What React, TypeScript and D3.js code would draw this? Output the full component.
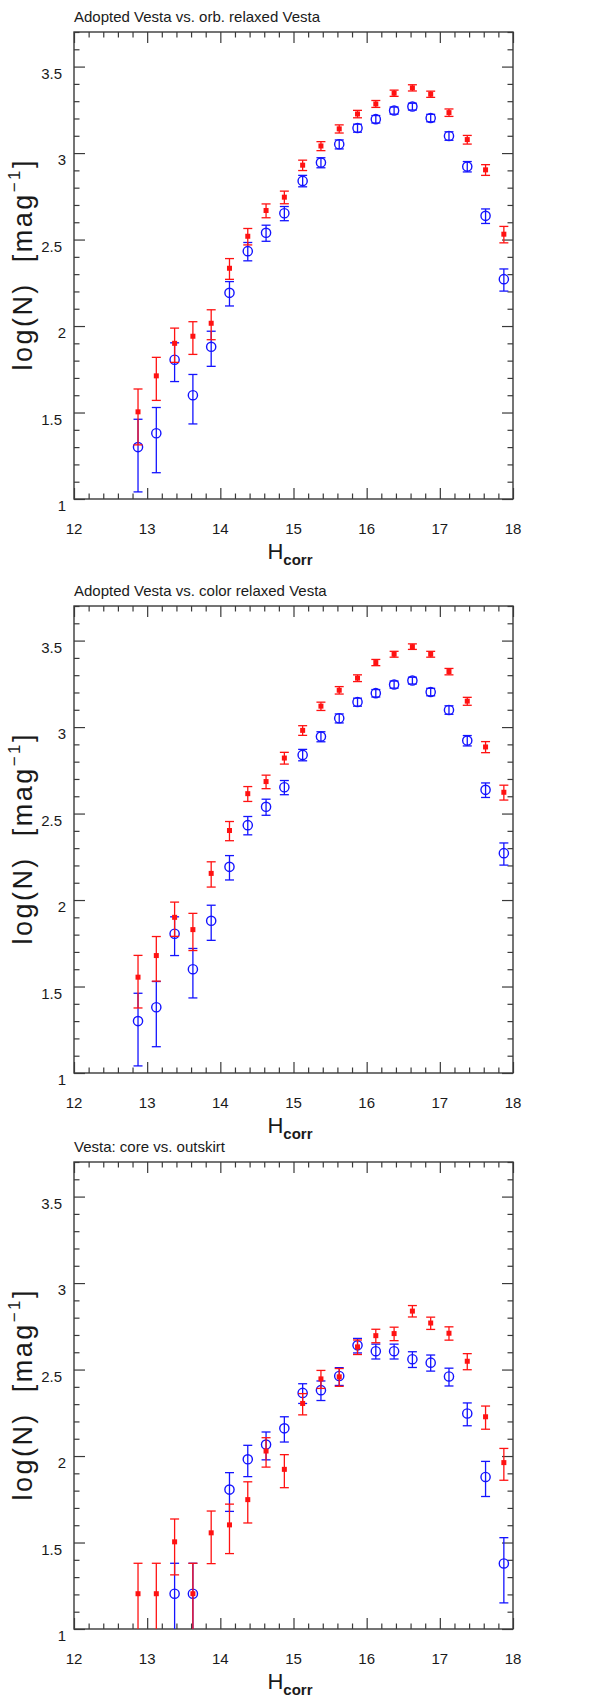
import React, { useEffect, useRef } from "react";
import * as d3 from "d3";

// bin centres in H_corr (0.25 mag bins)
const hBins = [
  12.875, 13.125, 13.375, 13.625, 13.875, 14.125, 14.375, 14.625, 14.875, 15.125, 15.375,
  15.625, 15.875, 16.125, 16.375, 16.625, 16.875, 17.125, 17.375, 17.625, 17.875,
];

// log(N) values, with upper / lower error offsets
const adopted = [1.3, 1.38, 1.805, 1.6, 1.88, 2.192, 2.433, 2.539, 2.652, 2.839, 2.945, 3.051, 3.145, 3.196, 3.246, 3.269, 3.203, 3.099, 2.922, 2.637, 2.271];
const adoptedUp = [0.161, 0.149, 0.098, 0.12, 0.09, 0.065, 0.05, 0.044, 0.039, 0.032, 0.028, 0.025, 0.022, 0.021, 0.02, 0.019, 0.021, 0.024, 0.029, 0.04, 0.059];
const adoptedDn = [0.259, 0.228, 0.126, 0.166, 0.113, 0.076, 0.056, 0.049, 0.043, 0.034, 0.03, 0.027, 0.024, 0.022, 0.021, 0.02, 0.022, 0.025, 0.031, 0.044, 0.069];

const orbRelaxed = [1.504, 1.712, 1.9, 1.941, 2.016, 2.334, 2.519, 2.668, 2.745, 2.93, 3.041, 3.14, 3.226, 3.284, 3.346, 3.377, 3.34, 3.234, 3.078, 2.903, 2.531];
const orbRelaxedUp = [0.132, 0.107, 0.088, 0.084, 0.078, 0.056, 0.045, 0.038, 0.035, 0.029, 0.025, 0.023, 0.021, 0.02, 0.018, 0.018, 0.018, 0.021, 0.024, 0.03, 0.045];
const orbRelaxedDn = [0.191, 0.142, 0.11, 0.105, 0.095, 0.064, 0.05, 0.042, 0.038, 0.031, 0.027, 0.024, 0.022, 0.02, 0.018, 0.018, 0.018, 0.022, 0.026, 0.032, 0.05];

const colorRelaxed = [1.554, 1.679, 1.9, 1.829, 2.154, 2.402, 2.615, 2.685, 2.821, 2.981, 3.121, 3.213, 3.283, 3.373, 3.421, 3.465, 3.421, 3.321, 3.15, 2.885, 2.623];
const colorRelaxedUp = [0.126, 0.11, 0.088, 0.094, 0.067, 0.052, 0.041, 0.037, 0.033, 0.027, 0.023, 0.021, 0.019, 0.018, 0.017, 0.016, 0.017, 0.018, 0.022, 0.031, 0.041];
const colorRelaxedDn = [0.178, 0.148, 0.11, 0.121, 0.079, 0.059, 0.045, 0.041, 0.035, 0.029, 0.025, 0.022, 0.02, 0.018, 0.017, 0.016, 0.017, 0.019, 0.024, 0.033, 0.045];

const core = [null, null, 1.204, 1.204, null, 1.806, 1.981, 2.066, 2.16, 2.365, 2.381, 2.463, 2.64, 2.606, 2.606, 2.56, 2.54, 2.46, 2.246, 1.879, 1.379];
const coreUp = [0, 0, 0.176, 0.176, 0, 0.098, 0.081, 0.073, 0.067, 0.053, 0.053, 0.048, 0.04, 0.041, 0.041, 0.043, 0.044, 0.048, 0.061, 0.09, 0.149];
const coreDn = [0, 0, 0.301, 0.301, 0, 0.126, 0.1, 0.088, 0.079, 0.061, 0.06, 0.055, 0.044, 0.045, 0.045, 0.048, 0.049, 0.055, 0.071, 0.113, 0.228];

const outskirt = [1.204, 1.204, 1.504, 1.204, 1.556, 1.602, 1.748, 2.029, 1.923, 2.304, 2.446, 2.458, 2.631, 2.696, 2.708, 2.838, 2.769, 2.71, 2.548, 2.227, 1.962];
const outskirtUp = [0.176, 0.176, 0.132, 0.176, 0.126, 0.12, 0.103, 0.077, 0.085, 0.057, 0.049, 0.048, 0.04, 0.037, 0.037, 0.032, 0.034, 0.037, 0.044, 0.062, 0.082];
const outskirtDn = [0.301, 0.301, 0.191, 0.301, 0.178, 0.166, 0.135, 0.093, 0.106, 0.066, 0.055, 0.055, 0.044, 0.041, 0.041, 0.034, 0.037, 0.04, 0.049, 0.072, 0.102];

const xTicks = [12, 13, 14, 15, 16, 17, 18];
const xTickLabels = ["12", "13", "14", "15", "16", "17", "18"];
const yTicks = [1, 1.5, 2, 2.5, 3, 3.5];
const yTickLabels = ["1", "1.5", "2", "2.5", "3", "3.5"];

const BLUE = "#1414ff";
const RED = "#ff1212";
const AXIS = "#3a3a3a";
const FONT = "'Liberation Sans', Arial, Helvetica, sans-serif";

const Panel = ({ idx, title, top, blue, red }) => {
  const gRef = useRef(null);

  useEffect(() => {
    const g = d3.select(gRef.current);
    g.selectAll("*").remove();

    const left = 74;
    const right = 513;
    const height = 467;
    const bottom = top + height;

    const x = d3.scaleLinear().domain([12, 18]).range([left, right]);
    const y = d3.scaleLinear().domain([1, 3.7]).range([bottom, top]);

    const xMinor = d3.range(0, 31).map((i) => 12 + i * 0.2).filter((_, i) => i % 5 !== 0);
    const yMinor = d3.range(0, 28).map((i) => 1 + i * 0.1).filter((_, i) => i % 5 !== 0);

    // inward-pointing ticks on all four sides
    const tickAxis = (axis, tr) => {
      const a = g.append("g").attr("transform", tr).call(axis);
      a.select(".domain").remove();
      a.selectAll("line").attr("stroke", AXIS).attr("stroke-width", 1.2);
      a.selectAll("text").remove();
    };
    const fmt = () => "";
    tickAxis(d3.axisBottom(x).tickValues(xTicks).tickSize(-11).tickSizeOuter(0).tickFormat(fmt), `translate(0,${bottom})`);
    tickAxis(d3.axisBottom(x).tickValues(xMinor).tickSize(-5.5).tickSizeOuter(0).tickFormat(fmt), `translate(0,${bottom})`);
    tickAxis(d3.axisTop(x).tickValues(xTicks).tickSize(-11).tickSizeOuter(0).tickFormat(fmt), `translate(0,${top})`);
    tickAxis(d3.axisTop(x).tickValues(xMinor).tickSize(-5.5).tickSizeOuter(0).tickFormat(fmt), `translate(0,${top})`);
    tickAxis(d3.axisLeft(y).tickValues(yTicks).tickSize(-11).tickSizeOuter(0).tickFormat(fmt), `translate(${left},0)`);
    tickAxis(d3.axisLeft(y).tickValues(yMinor).tickSize(-5.5).tickSizeOuter(0).tickFormat(fmt), `translate(${left},0)`);
    tickAxis(d3.axisRight(y).tickValues(yTicks).tickSize(-11).tickSizeOuter(0).tickFormat(fmt), `translate(${right},0)`);
    tickAxis(d3.axisRight(y).tickValues(yMinor).tickSize(-5.5).tickSizeOuter(0).tickFormat(fmt), `translate(${right},0)`);

    g.append("rect")
      .attr("x", left)
      .attr("y", top)
      .attr("width", right - left)
      .attr("height", height)
      .attr("fill", "none")
      .attr("stroke", AXIS)
      .attr("stroke-width", 1.4);

    // tick labels
    g.append("g")
      .selectAll("text")
      .data(xTicks)
      .enter()
      .append("text")
      .attr("x", (d) => x(d))
      .attr("y", bottom + 35.3)
      .attr("text-anchor", "middle")
      .attr("font-size", 15)
      .attr("fill", "#1a1a1a")
      .text((d, i) => xTickLabels[i]);

    g.append("g")
      .selectAll("text")
      .data(yTicks)
      .enter()
      .append("text")
      .attr("x", (d, i) => (yTickLabels[i].includes(".") ? 62 : 66))
      .attr("y", (d) => y(d) + 12.3)
      .attr("text-anchor", "end")
      .attr("font-size", 15)
      .attr("fill", "#1a1a1a")
      .text((d, i) => yTickLabels[i]);

    // title
    g.append("text")
      .attr("x", left)
      .attr("y", top - 10)
      .attr("font-size", 15)
      .attr("fill", "#1a1a1a")
      .text(title);

    // x label
    const xl = g
      .append("text")
      .attr("x", 290)
      .attr("y", bottom + 59.5)
      .attr("text-anchor", "middle")
      .attr("fill", "#1a1a1a");
    xl.append("tspan").attr("font-size", 22).text("H");
    xl.append("tspan").attr("font-size", 15).attr("font-weight", "bold").attr("dy", 6).text("corr");

    // y label
    const yl = g
      .append("text")
      .attr("transform", `translate(31.5,${top + 233.5}) rotate(-90)`)
      .attr("text-anchor", "middle")
      .attr("font-size", 27)
      .attr("fill", "#1a1a1a")
      .style("white-space", "pre")
      .attr("textLength", 210)
      .attr("lengthAdjust", "spacing");
    yl.append("tspan").text("log(N)  [mag");
    yl.append("tspan").attr("font-size", 17).attr("dy", -12).text("\u22121");
    yl.append("tspan").attr("dy", 12).text("]");

    // data
    g.append("clipPath")
      .attr("id", `clip-${idx}`)
      .append("rect")
      .attr("x", left)
      .attr("y", top)
      .attr("width", right - left)
      .attr("height", height);

    const plot = g.append("g").attr("clip-path", `url(#clip-${idx})`);

    const drawSeries = (s, color, marker) => {
      const pts = hBins
        .map((h, i) => ({ h, v: s.vals[i], up: s.up[i], dn: s.dn[i] }))
        .filter((d) => d.v !== null);
      const eg = plot.append("g").attr("stroke", color).attr("stroke-width", 1.3).attr("fill", "none");
      pts.forEach((d) => {
        const cx = x(d.h);
        const yHi = y(d.v + d.up);
        const yLo = y(d.v - d.dn);
        eg.append("line").attr("x1", cx).attr("x2", cx).attr("y1", yHi).attr("y2", yLo);
        eg.append("line").attr("x1", cx - 4.5).attr("x2", cx + 4.5).attr("y1", yHi).attr("y2", yHi);
        eg.append("line").attr("x1", cx - 4.5).attr("x2", cx + 4.5).attr("y1", yLo).attr("y2", yLo);
      });
      if (marker === "circle") {
        plot.append("g")
          .selectAll("circle")
          .data(pts)
          .enter()
          .append("circle")
          .attr("cx", (d) => x(d.h))
          .attr("cy", (d) => y(d.v))
          .attr("r", 4.6)
          .attr("fill", "none")
          .attr("stroke", color)
          .attr("stroke-width", 1.4);
      } else {
        plot.append("g")
          .selectAll("rect")
          .data(pts)
          .enter()
          .append("rect")
          .attr("x", (d) => x(d.h) - 2.5)
          .attr("y", (d) => y(d.v) - 2.5)
          .attr("width", 5)
          .attr("height", 5)
          .attr("fill", color);
      }
    };

    drawSeries(blue, BLUE, "circle");
    drawSeries(red, RED, "square");
  }, [idx, title, top, blue, red]);

  return <g ref={gRef} fontFamily={FONT} />;
};

const panelDefs = [
  {
    title: "Adopted Vesta vs. orb. relaxed Vesta",
    top: 32,
    blue: { vals: adopted, up: adoptedUp, dn: adoptedDn },
    red: { vals: orbRelaxed, up: orbRelaxedUp, dn: orbRelaxedDn },
  },
  {
    title: "Adopted Vesta vs. color relaxed Vesta",
    top: 606,
    blue: { vals: adopted, up: adoptedUp, dn: adoptedDn },
    red: { vals: colorRelaxed, up: colorRelaxedUp, dn: colorRelaxedDn },
  },
  {
    title: "Vesta: core vs. outskirt",
    top: 1162,
    blue: { vals: core, up: coreUp, dn: coreDn },
    red: { vals: outskirt, up: outskirtUp, dn: outskirtDn },
  },
];

const App = () => {
  return (
    <svg
      width="589"
      height="1698"
      style={{ position: "absolute", left: 0, top: 0, background: "#fff" }}
    >
      <rect x="0" y="0" width="589" height="1698" fill="#fff" />
      {panelDefs.map((p, i) => (
        <Panel key={i} idx={i} title={p.title} top={p.top} blue={p.blue} red={p.red} />
      ))}
    </svg>
  );
};

export default App;
